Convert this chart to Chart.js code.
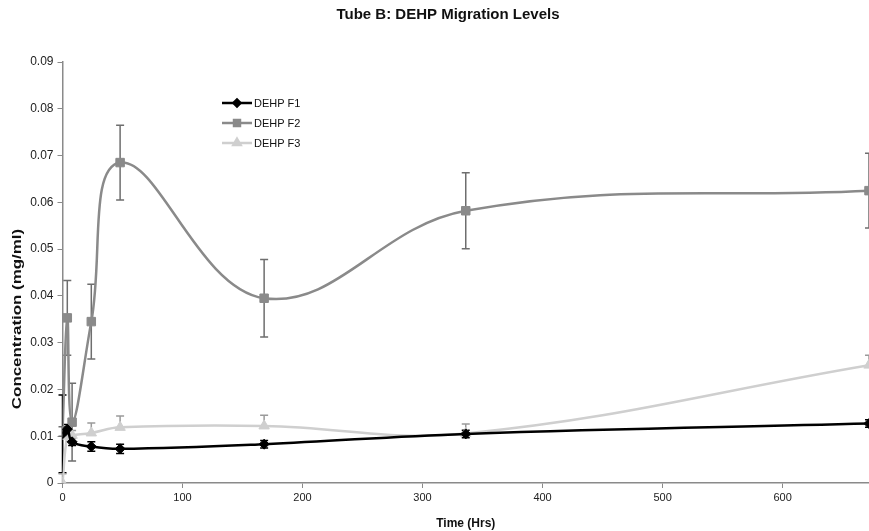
<!DOCTYPE html>
<html>
<head>
<meta charset="utf-8">
<script src="https://cdn.jsdelivr.net/npm/chart.js@4.4.0/dist/chart.umd.min.js"></script>
<style>
    html, body { margin: 0; padding: 0; background: #fff; overflow: hidden; }
</style>
</head>
<body>
<canvas id="chart" width="869" height="531"></canvas>
<script>
// Sampling times (hours)
const hours = [0, 4, 8, 24, 48, 168, 336, 672];

// Concentrations (mg/ml)
const f1 = [0.0105, 0.0115, 0.0088, 0.0078, 0.0073, 0.0083, 0.0105, 0.0127];
const f2 = [0.0110, 0.0353, 0.0130, 0.0345, 0.0685, 0.0395, 0.0582, 0.0625];
const f3 = [0.0000, 0.0100, 0.0102, 0.0107, 0.0119, 0.0122, 0.0106, 0.0252];

// Error bar half-widths
const f1Err = [0.0083, 0.0010, 0.0008, 0.0010, 0.0010, 0.0008, 0.0008, 0.0008];
const f2Err = [0.0010, 0.0080, 0.0083, 0.0080, 0.0080, 0.0083, 0.0081, 0.0080];
const f3Err = [0.0020, 0.0010, 0.0010, 0.0021, 0.0024, 0.0023, 0.0020, 0.0021];

const seriesNames = ['DEHP F1', 'DEHP F2', 'DEHP F3'];
const xTicks = [0, 100, 200, 300, 400, 500, 600];
const yTicks = [0, 0.01, 0.02, 0.03, 0.04, 0.05, 0.06, 0.07, 0.08, 0.09];

const FONT = '"Liberation Sans", Arial, sans-serif';

function toPoints(vals) {
    return hours.map((h, i) => ({ x: h, y: vals[i] }));
}

// Draw error bars under the markers
const errorBars = {
    id: 'errorBars',
    beforeDatasetsDraw(chart) {
        const ctx = chart.ctx;
        const yScale = chart.scales.y;
        chart.data.datasets.forEach((ds, i) => {
            const meta = chart.getDatasetMeta(i);
            ctx.save();
            ctx.strokeStyle = ds.errColor;
            ctx.lineWidth = 1.5;
            meta.data.forEach((pt, j) => {
                const v = ds.data[j].y;
                const e = ds.errors[j];
                const top = yScale.getPixelForValue(v + e);
                const bot = yScale.getPixelForValue(ds.plusOnly ? v : v - e);
                ctx.beginPath();
                ctx.moveTo(pt.x, top);
                ctx.lineTo(pt.x, bot);
                ctx.moveTo(pt.x - 4, top);
                ctx.lineTo(pt.x + 4, top);
                if (!ds.plusOnly) {
                    ctx.moveTo(pt.x - 4, bot);
                    ctx.lineTo(pt.x + 4, bot);
                }
                ctx.stroke();
            });
            ctx.restore();
        });
    }
};

// Legend inside the plot area, plus the chart title and y axis title
const extras = {
    id: 'extras',
    afterDraw(chart) {
        const ctx = chart.ctx;
        const x0 = 222, x1 = 252, rows = [103, 123, 143];
        chart.data.datasets.forEach((ds, i) => {
            const y = rows[i];
            ctx.save();
            ctx.strokeStyle = ds.borderColor;
            ctx.lineWidth = ds.borderWidth;
            ctx.beginPath();
            ctx.moveTo(x0, y);
            ctx.lineTo(x1, y);
            ctx.stroke();
            ctx.fillStyle = ds.borderColor;
            Chart.helpers.drawPoint(ctx, {
                pointStyle: ds.pointStyle,
                radius: ds.pointRadius * 0.7,
                rotation: 0,
                borderWidth: 1
            }, (x0 + x1) / 2, y);
            ctx.fillStyle = '#111';
            ctx.font = '11px ' + FONT;
            ctx.textBaseline = 'middle';
            ctx.fillText(ds.label, x1 + 2, y + 1);
            ctx.restore();
        });

        // main title
        ctx.save();
        ctx.fillStyle = '#111';
        ctx.font = 'bold 15px ' + FONT;
        ctx.textAlign = 'center';
        ctx.textBaseline = 'middle';
        ctx.fillText('Tube B: DEHP Migration Levels', 448, 15);
        ctx.restore();

        // y axis title
        ctx.save();
        ctx.translate(17, 319);
        ctx.rotate(-Math.PI / 2);
        ctx.scale(1.3, 1);
        ctx.fillStyle = '#111';
        ctx.font = 'bold 13px ' + FONT;
        ctx.textAlign = 'center';
        ctx.textBaseline = 'middle';
        ctx.fillText('Concentration (mg/ml)', 0, 0);
        ctx.restore();
    }
};

function makeDataset(label, vals, errs, color, errColor, style, radius, plusOnly) {
    return {
        label: label,
        data: toPoints(vals),
        errors: errs,
        errColor: errColor,
        plusOnly: plusOnly,
        borderColor: color,
        backgroundColor: color,
        borderWidth: 2.5,
        pointStyle: style,
        pointRadius: radius,
        pointBorderWidth: 1,
        pointBorderColor: color,
        pointBackgroundColor: color,
        tension: 0.4,
        fill: false
    };
}

const ctx = document.getElementById('chart').getContext('2d');
const chart = new Chart(ctx, {
    type: 'line',
    data: {
        datasets: [
            makeDataset(seriesNames[0], f1, f1Err, '#000000', '#000000', 'rectRot', 5, false),
            makeDataset(seriesNames[1], f2, f2Err, '#8a8a8a', '#6e6e6e', 'rect', 6, false),
            makeDataset(seriesNames[2], f3, f3Err, '#cfcfcf', '#9a9a9a', 'triangle', 6, true)
        ]
    },
    options: {
        responsive: false,
        animation: false,
        maintainAspectRatio: false,
        layout: { autoPadding: false, padding: { top: 62, left: 0, right: 0, bottom: 0 } },
        plugins: {
            legend: { display: false },
            tooltip: { enabled: false },
            title: { display: false }
        },
        scales: {
            x: {
                type: 'linear',
                min: 0,
                max: 672,
                afterFit(scale) {
                    scale.height = 48;
                    scale.paddingRight = 0;
                    scale.paddingLeft = 0;
                },
                afterBuildTicks(scale) { scale.ticks = xTicks.map(v => ({ value: v })); },
                border: { color: '#8a8a8a', width: 1.5 },
                grid: { display: true, drawOnChartArea: false, drawTicks: true, tickLength: 5, color: '#8a8a8a' },
                ticks: { color: '#222', font: { family: FONT, size: 11 }, padding: 3, maxRotation: 0 },
                title: {
                    display: true,
                    text: 'Time (Hrs)',
                    color: '#111',
                    font: { family: FONT, size: 12, weight: 'bold' },
                    padding: { top: 1, bottom: 0 }
                }
            },
            y: {
                min: 0,
                max: 0.09,
                afterFit(scale) { scale.width = 62.5; },
                afterBuildTicks(scale) { scale.ticks = yTicks.map(v => ({ value: v })); },
                border: { color: '#8a8a8a', width: 1.5 },
                grid: { display: true, drawOnChartArea: false, drawTicks: true, tickLength: 5, color: '#8a8a8a' },
                ticks: {
                    color: '#222',
                    font: { family: FONT, size: 12 },
                    padding: 4,
                    callback: v => v === 0 ? '0' : v.toFixed(2)
                },
                title: { display: false }
            }
        }
    },
    plugins: [errorBars, extras]
});
</script>
</body>
</html>
